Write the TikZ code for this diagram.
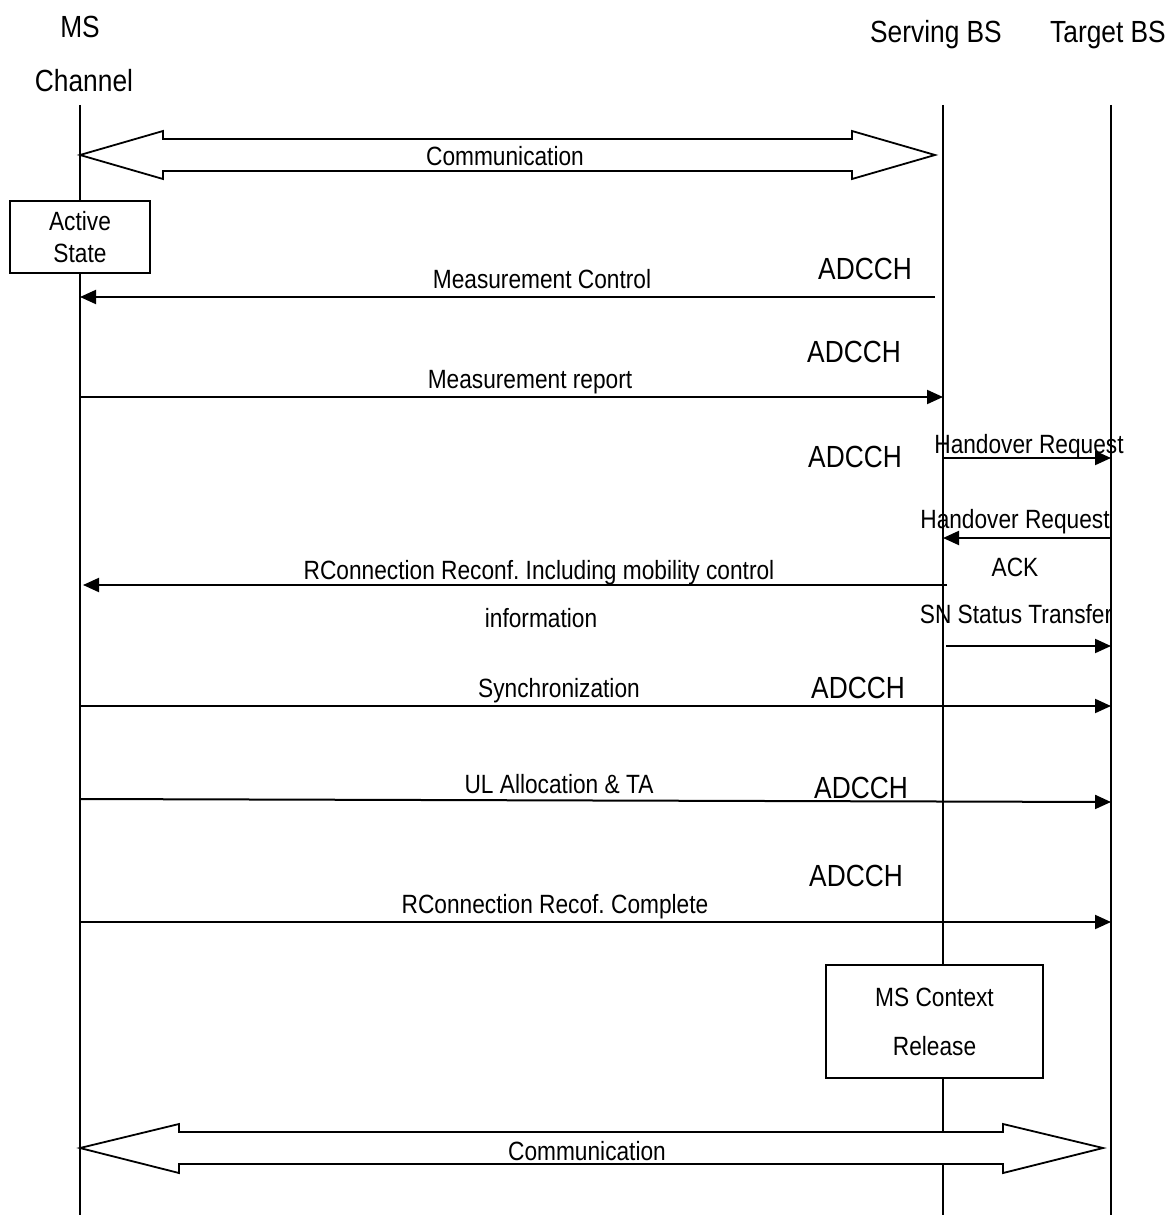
\documentclass[tikz,border=0pt]{standalone}
\usepackage{fontspec}
\setmainfont{Liberation Sans}[FakeStretch=0.86]
\usetikzlibrary{arrows.meta,positioning,calc}
\frenchspacing
\tikzset{
  actor/.style  ={font=\fontsize{15.3}{18}\selectfont, inner sep=0pt, anchor=base},
  chlbl/.style  ={font=\fontsize{15.3}{18}\selectfont, inner sep=0pt, anchor=base},
  msglbl/.style ={font=\fontsize{13.2}{16}\selectfont, inner sep=0pt, anchor=base},
  statebox/.style={draw, line width=0.9pt, fill=white, align=center,
                   font=\fontsize{13.2}{16}\selectfont, inner sep=0pt},
  life/.style   ={line width=0.75pt},
  msg/.style    ={-{Triangle[length=8pt,width=7pt]}, line width=1pt},
  fatarr/.style ={line width=0.9pt, fill=white},
}

\begin{document}
\begin{tikzpicture}[x=0.5pt,y=-0.5pt]
  \useasboundingbox (0,0) rectangle (1172,1219);
  % entities
  \node[actor] (ms)  at (80,38)   {MS};
  \node[actor] (ch)  at (84,92)   {Channel};
  \node[actor] (sbs) at (936,43)  {Serving BS};
  \node[actor] (tbs) at (1108,43) {Target BS};
  \coordinate (ms top)  at (80,105);   \coordinate (ms bot)  at (80,1215);
  \coordinate (sbs top) at (943,105);  \coordinate (sbs bot) at (943,1215);
  \coordinate (tbs top) at (1111,105); \coordinate (tbs bot) at (1111,1215);
  \draw[life] (ms top) -- (ms bot);
  \draw[life] (sbs top) -- (sbs bot);
  \draw[life] (tbs top) -- (tbs bot);

  % communication before handover
  \draw[fatarr] (80,155) -- (163,131) -- (163,139) -- (852,139) -- (852,131)
    -- (935,155) -- (852,179) -- (852,171) -- (163,171) -- (163,179) -- cycle;
  \node[msglbl] (com1) at (505,166) {Communication};

  \node[statebox, minimum width=70pt, minimum height=36pt] (act) at (80,237) {Active\\State};

  % measurement
  \draw[msg, shorten <=4pt] (sbs top |- 0,297) -- (ms top |- 0,297);
  \node[msglbl] (lmc) at (542,289) {Measurement Control};
  \node[chlbl]  (ch1) at (865,280) {ADCCH};
  \draw[msg] (ms top |- 0,397) -- (sbs top |- 0,397);
  \node[msglbl] (lmr) at (530,388) {Measurement report};
  \node[chlbl]  (ch2) at (854,363) {ADCCH};

  % handover preparation
  \draw[msg] (sbs top |- 0,458) -- (tbs top |- 0,458);
  \node[msglbl] (lhr) at (1029,453) {Handover Request};
  \node[chlbl]  (ch3) at (855,467) {ADCCH};
  \draw[msg] (tbs top |- 0,538) -- (sbs top |- 0,538);
  \node[msglbl] (lha)  at (1015,528) {Handover Request};
  \node[msglbl] (lack) at (1015,576) {ACK};
  \draw[msg] ($(sbs top |- 0,585)+(4,0)$) -- ($(ms top |- 0,585)+(3,0)$);
  \node[msglbl] (lrc) at (539,579) {RConnection Reconf. Including mobility control};
  \node[msglbl] (lri) at (541,627) {information};
  \draw[msg] ($(sbs top |- 0,646)+(3,0)$) -- (tbs top |- 0,646);
  \node[msglbl] (lsn) at (1016,623) {SN Status Transfer};

  % handover execution
  \draw[msg] (ms top |- 0,706) -- (tbs top |- 0,706);
  \node[msglbl] (lsy) at (559,697) {Synchronization};
  \node[chlbl]  (ch4) at (858,698) {ADCCH};
  \draw[msg] (ms top |- 0,799) -- (tbs top |- 0,802);
  \node[msglbl] (lul) at (559,793) {UL Allocation \& TA};
  \node[chlbl]  (ch5) at (861,798) {ADCCH};
  \draw[msg] (ms top |- 0,922) -- (tbs top |- 0,922);
  \node[msglbl] (lrr) at (555,913) {RConnection Recof. Complete};
  \node[chlbl]  (ch6) at (856,886) {ADCCH};

  \node[statebox, minimum width=108.5pt, minimum height=56.5pt,
        font=\fontsize{13.2}{24.5}\selectfont] (rel) at (934.5,1021.5) {MS Context\\Release};

  % communication after handover
  \draw[fatarr] (80,1148) -- (179,1124) -- (179,1132) -- (1003,1132) -- (1003,1124)
    -- (1103,1148) -- (1003,1173) -- (1003,1164) -- (179,1164) -- (179,1173) -- cycle;
  \node[msglbl] (com2) at (587,1160) {Communication};
\end{tikzpicture}
\end{document}
